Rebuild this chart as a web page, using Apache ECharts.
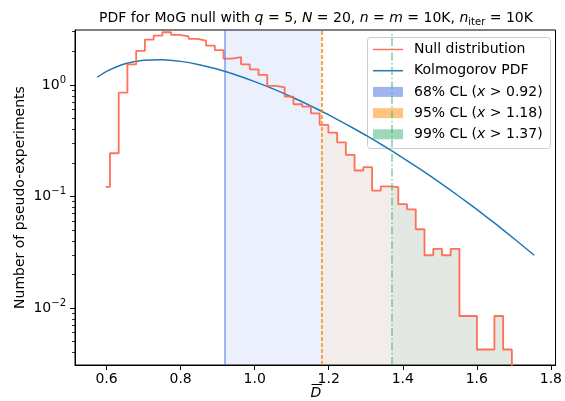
<!DOCTYPE html>
<html>
<head>
<meta charset="utf-8">
<script src="https://cdn.jsdelivr.net/npm/echarts@6/dist/echarts.min.js"></script>
<style>
  html, body { margin: 0; padding: 0; background: #fff; }
  #chart { width: 565px; height: 401px; }
</style>
</head>
<body>
<div id="chart"></div>
<script>
// ---- data ---------------------------------------------------------------
// Null distribution histogram (density per bin), bins drawn as mid-steps
const binStart = 0.5973;   // centre of the first bin
const binWidth = 0.0236;
const nullDensity = [
  0.122, 0.244, 0.853, 1.53, 2.02, 2.55, 2.77, 2.97, 2.81, 2.73,
  2.59, 2.50, 2.25, 2.05, 1.72, 1.78, 1.53, 1.38, 1.23, 0.98,
  0.953, 0.786, 0.671, 0.639, 0.557, 0.438, 0.373, 0.306, 0.236, 0.171,
  0.183, 0.113, 0.123, 0.121, 0.0852, 0.0767, 0.0508, 0.0297, 0.0339, 0.0297,
  0.0339, 0.00847, 0.00847, 0.00424, 0.00424, 0.00847, 0.00424
];

// Kolmogorov PDF sampled along D
const kolmX = [0.575, 0.6, 0.65, 0.7, 0.75, 0.8, 0.85, 0.9, 0.95, 1.0, 1.05, 1.1,
               1.15, 1.2, 1.25, 1.3, 1.35, 1.4, 1.45, 1.5, 1.55, 1.6, 1.65, 1.7, 1.755];
const kolmY = [1.174, 1.324, 1.549, 1.665, 1.683, 1.627, 1.519, 1.381, 1.228, 1.072, 0.9215, 0.7803,
               0.6522, 0.5385, 0.4392, 0.3541, 0.2821, 0.2222, 0.1731, 0.1333, 0.1015, 0.0765, 0.0570, 0.0420, 0.0297];

// confidence-level thresholds
const clLabels = ['68% CL', '95% CL', '99% CL'];
const clThresholds = [0.92, 1.18, 1.37];

// axes
const xTicks = [0.6, 0.8, 1.0, 1.2, 1.4, 1.6, 1.8];
const yMajor = [0.01, 0.1, 1];
const yMinor = [0.004, 0.005, 0.006, 0.007, 0.008, 0.009,
                0.02, 0.03, 0.04, 0.05, 0.06, 0.07, 0.08, 0.09,
                0.2, 0.3, 0.4, 0.5, 0.6, 0.7, 0.8, 0.9, 2, 3];
const xRange = [0.5147, 1.8126];
const yRange = [0.00308, 3.11];
const xTitle = 'D';   // drawn with an overbar (mean D)
const yTitle = 'Number of pseudo-experiments';

// ---- helpers ------------------------------------------------------------
const FONT = 'DejaVu Sans';
const clRGB = ['65,105,225', '255,140,0', '60,179,113'];
const NULL_COLOR = 'rgba(255,99,71,0.9)';

// step outline of the histogram restricted to [lo, hi]
function stepPath(lo, hi) {
  const pts = [];
  for (let i = 0; i < nullDensity.length; i++) {
    const c = binStart + i * binWidth;
    let a = i === 0 ? c : c - binWidth / 2;
    let b = c + binWidth / 2;
    a = Math.max(a, lo);
    b = Math.min(b, hi);
    if (b <= a) continue;
    pts.push([a, nullDensity[i]], [b, nullDensity[i]]);
  }
  return pts;
}
const lastEdge = binStart + (nullDensity.length - 0.5) * binWidth;
const nullLine = stepPath(-Infinity, Infinity).concat([[lastEdge, 1e-6]]);

function areaSeries(lo, rgb) {
  return {
    type: 'line', data: stepPath(lo, Infinity), symbol: 'none', silent: true,
    lineStyle: { width: 0, opacity: 0 },
    areaStyle: { color: 'rgba(' + rgb + ',0.1)', origin: 'start' },
    z: 1
  };
}

const supMinus = s => s.replace('-', '\u2212');

// ---- chart --------------------------------------------------------------
const chart = echarts.init(document.getElementById('chart'), null, { renderer: 'canvas' });

const blueArea = areaSeries(clThresholds[1], clRGB[0]);
blueArea.markArea = {
  silent: true,
  itemStyle: { color: 'rgba(' + clRGB[0] + ',0.1)' },
  data: [[{ xAxis: clThresholds[0] }, { xAxis: clThresholds[1] }]]
};
blueArea.markLine = {
  silent: true, symbol: ['none', 'none'], label: { show: false },
  data: [
    { xAxis: clThresholds[0], lineStyle: { color: 'rgba(65,105,225,0.65)', width: 1.5, type: 'solid' } },
    { xAxis: clThresholds[1], lineStyle: { color: '#ff8c00', width: 1.5, type: [4, 2] } },
    { xAxis: clThresholds[2], lineStyle: { color: 'rgba(60,179,113,0.65)', width: 1.5, type: [8, 2.5, 1.5, 2.5] } }
  ]
};

// legend drawn as a framed box in the upper right of the axes
const legendRows = [
  { kind: 'line', color: NULL_COLOR, text: 'Null distribution' },
  { kind: 'line', color: '#1f77b4', text: 'Kolmogorov PDF' }
].concat(clLabels.map((lab, k) => ({
  kind: 'patch', color: 'rgba(' + clRGB[k] + ',0.5)',
  text: lab + ' ({i|x} > ' + clThresholds[k].toFixed(2) + ')'
})));

const legendEls = [{
  type: 'rect', shape: { x: 367.5, y: 37.5, width: 183, height: 111, r: 3 },
  style: { fill: 'rgba(255,255,255,0.8)', stroke: '#cccccc', lineWidth: 1 }
}];
legendRows.forEach((row, i) => {
  const y = 49.5 + 21.2 * i;
  if (row.kind === 'line') {
    legendEls.push({ type: 'line', shape: { x1: 373, y1: y, x2: 403, y2: y },
      style: { stroke: row.color, lineWidth: 1.5 } });
  } else {
    legendEls.push({ type: 'rect', shape: { x: 373, y: y - 5, width: 30, height: 10 },
      style: { fill: row.color } });
  }
  legendEls.push({ type: 'text', x: 414, y: y,
    style: { text: row.text, fill: '#000', fontSize: 14, fontFamily: FONT,
      align: 'left', verticalAlign: 'middle',
      rich: { i: { fontStyle: 'italic', fontSize: 14, fontFamily: FONT } } } });
});

const option = {
  animation: false,
  backgroundColor: '#fff',
  grid: { left: 75, right: 8, top: 30, bottom: 36, show: true,
          borderColor: '#000', borderWidth: 1, backgroundColor: 'transparent' },
  xAxis: {
    type: 'value', min: xRange[0], max: xRange[1],
    axisLine: { show: true, onZero: false, lineStyle: { color: '#000', width: 1 } },
    axisTick: { show: true, length: 5, customValues: xTicks, lineStyle: { color: '#000', width: 1 } },
    axisLabel: { customValues: xTicks, formatter: v => v.toFixed(1), color: '#000',
                 fontSize: 14, fontFamily: FONT, margin: 7 },
    splitLine: { show: false }
  },
  yAxis: [{
    type: 'log', logBase: 10, min: yRange[0], max: yRange[1],
    axisLine: { show: true, lineStyle: { color: '#000', width: 1 } },
    axisTick: { show: true, length: 5, customValues: yMajor, lineStyle: { color: '#000', width: 1 } },
    axisLabel: {
      customValues: yMajor, color: '#000', fontSize: 14, fontFamily: FONT, margin: 9, lineHeight: 20,
      formatter: v => '10{sup|' + supMinus(String(Math.round(Math.log10(v)))) + '}',
      rich: { sup: { fontSize: 10, fontFamily: FONT, color: '#000', verticalAlign: 'top', lineHeight: 12 } }
    },
    splitLine: { show: false }
  }, {
    type: 'log', logBase: 10, min: yRange[0], max: yRange[1], position: 'left',
    axisLine: { show: false },
    axisTick: { show: true, length: 3, customValues: yMinor, lineStyle: { color: '#000', width: 0.8 } },
    axisLabel: { show: false },
    splitLine: { show: false }
  }],
  series: [
    blueArea,
    areaSeries(clThresholds[1], clRGB[1]),
    areaSeries(clThresholds[2], clRGB[2]),
    {
      name: 'Kolmogorov PDF', type: 'line', data: kolmX.map((x, i) => [x, kolmY[i]]),
      symbol: 'none', smooth: 0.2, lineStyle: { color: '#1f77b4', width: 1.5 }, z: 3
    },
    {
      name: 'Null distribution', type: 'line', data: nullLine, symbol: 'none',
      lineStyle: { color: NULL_COLOR, width: 1.8 }, z: 4
    }
  ],
  graphic: [
    { type: 'text', x: 316, y: 18, z: 10,
      style: { text: 'PDF for MoG null with {i|q} = 5, {i|N} = 20, {i|n} = {i|m} = 10K, {i|n}{sub|iter} = 10K',
        fill: '#000', fontSize: 14, fontFamily: FONT, align: 'center', verticalAlign: 'middle', lineHeight: 18,
        rich: {
          i: { fontStyle: 'italic', fontSize: 14, fontFamily: FONT, lineHeight: 18 },
          sub: { fontSize: 10, fontFamily: FONT, verticalAlign: 'bottom', lineHeight: 12 }
        } } },
    // x-axis title: italic D with an overbar
    { type: 'text', x: 316, y: 393, z: 10,
      style: { text: xTitle, fill: '#000', fontSize: 14, fontFamily: FONT, fontStyle: 'italic',
               align: 'center', verticalAlign: 'middle' } },
    { type: 'line', z: 10, shape: { x1: 311.5, y1: 384.5, x2: 322, y2: 384.5 },
      style: { stroke: '#000', lineWidth: 1 } },
    // y-axis title
    { type: 'text', x: 20, y: 197.5, rotation: Math.PI / 2, z: 10,
      style: { text: yTitle, fill: '#000', fontSize: 14, fontFamily: FONT,
               align: 'center', verticalAlign: 'middle' } },
    { type: 'group', z: 20, children: legendEls }
  ]
};
chart.setOption(option);
</script>
</body>
</html>
